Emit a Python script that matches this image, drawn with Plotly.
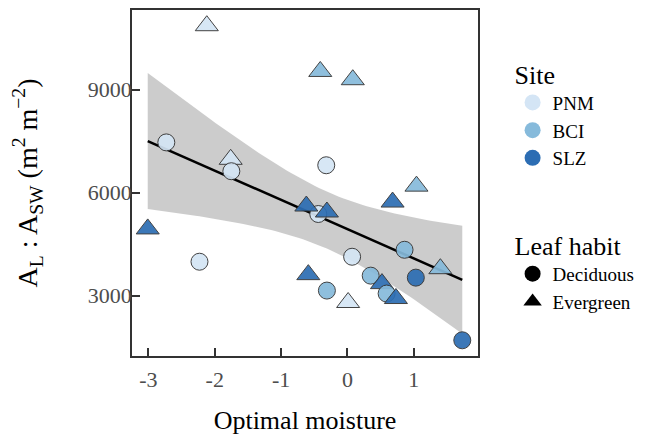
import numpy as np
import plotly.graph_objects as go

# ---- data ----
site = ["PNM", "BCI", "BCI", "PNM", "PNM", "PNM", "PNM", "SLZ", "PNM", "PNM",
        "SLZ", "SLZ", "BCI", "PNM", "SLZ", "PNM", "BCI", "SLZ", "BCI", "SLZ",
        "SLZ", "BCI", "BCI", "SLZ", "BCI", "SLZ"]
habit = ["Evergreen", "Evergreen", "Evergreen", "Deciduous", "Evergreen", "Deciduous",
         "Deciduous", "Evergreen", "Deciduous", "Deciduous", "Evergreen", "Evergreen",
         "Deciduous", "Evergreen", "Evergreen", "Deciduous", "Deciduous", "Evergreen",
         "Deciduous", "Evergreen", "Evergreen", "Evergreen", "Deciduous", "Deciduous",
         "Evergreen", "Deciduous"]
moisture = [-2.12, -0.41, 0.08, -2.73, -1.76, -1.75, -0.32, -3.01, -2.23, -0.44,
            -0.62, -0.31, -0.31, 0.01, -0.59, 0.07, 0.35, 0.52, 0.59, 0.73,
            0.68, 1.04, 0.86, 1.03, 1.40, 1.73]
ratio = [10864, 9531, 9290, 7463, 6970, 6623, 6797, 4941, 3985, 5376,
         5608, 5434, 3144, 2796, 3608, 4130, 3579, 3347, 3057, 2912,
         5724, 6188, 4333, 3521, 3782, 1695]

site_levels = ["PNM", "BCI", "SLZ"]
habit_levels = ["Deciduous", "Evergreen"]
x_ticks = [-3, -2, -1, 0, 1]
y_ticks = [3000, 6000, 9000]

# ---- styles ----
site_colors = {"PNM": "#d4e5f5", "BCI": "#86badb", "SLZ": "#2c6db3"}
habit_symbols = {"Deciduous": "circle", "Evergreen": "triangle-up"}
FONT = "Liberation Serif, Times New Roman, serif"

# ---- linear fit with 95% confidence band ----
x = np.array(moisture, dtype=float)
y = np.array(ratio, dtype=float)
n = len(x)
b1, b0 = np.polyfit(x, y, 1)
resid = y - (b0 + b1 * x)
s = np.sqrt(np.sum(resid ** 2) / (n - 2))
xbar = x.mean()
sxx = np.sum((x - xbar) ** 2)
t_crit = 2.0639  # t(0.975, df=24)
xg = np.linspace(x.min(), x.max(), 80)
yg = b0 + b1 * xg
se = s * np.sqrt(1.0 / n + (xg - xbar) ** 2 / sxx)
upper = yg + t_crit * se
lower = yg - t_crit * se

fig = go.Figure()
fig.add_trace(go.Scatter(
    x=np.concatenate([xg, xg[::-1]]), y=np.concatenate([upper, lower[::-1]]),
    fill="toself", fillcolor="rgba(153,153,153,0.5)", line=dict(width=0),
    mode="lines", showlegend=False, hoverinfo="skip"))
fig.add_trace(go.Scatter(x=xg, y=yg, mode="lines",
                         line=dict(color="black", width=2.5), showlegend=False))

fig.add_trace(go.Scatter(
    x=moisture, y=ratio, mode="markers", showlegend=False,
    marker=dict(color=[site_colors[s_] for s_ in site],
                symbol=[habit_symbols[h] for h in habit],
                size=[17 if h == "Deciduous" else 20 for h in habit],
                opacity=0.92,
                line=dict(color="#333333", width=1))))

# legend entries
for s_ in site_levels:
    fig.add_trace(go.Scatter(x=[None], y=[None], mode="markers", name=s_,
                             marker=dict(color=site_colors[s_], size=16, symbol="circle"),
                             legend="legend"))
for h in habit_levels:
    fig.add_trace(go.Scatter(x=[None], y=[None], mode="markers", name=h,
                             marker=dict(color="black", size=16, symbol=habit_symbols[h]),
                             legend="legend2"))

axis_common = dict(showgrid=False, zeroline=False, showline=True, mirror=True,
                   linecolor="#333333", linewidth=1.6, ticks="inside", ticklen=8,
                   tickwidth=1.6, tickcolor="#333333", automargin=False,
                   tickfont=dict(family=FONT, size=22, color="#4d4d4d"))

fig.update_xaxes(range=[-3.247, 1.967], tickvals=x_ticks,
                 ticktext=[str(v) for v in x_ticks], ticklabelstandoff=3,
                 title=dict(text="Optimal moisture", font=dict(family=FONT, size=26, color="black"),
                            standoff=24),
                 **axis_common)
fig.update_yaxes(range=[1237, 11322], tickvals=y_ticks,
                 ticktext=[str(v) for v in y_ticks], ticklabelstandoff=-6,
                 title=dict(text="A<sub>L</sub> : A<sub>SW</sub> (m<sup>2</sup> m<sup>\u22122</sup>)",
                            font=dict(family=FONT, size=28, color="black"), standoff=42),
                 **axis_common)

legend_common = dict(bgcolor="rgba(0,0,0,0)", font=dict(family=FONT, size=19, color="black"),
                     itemsizing="trace", tracegroupgap=0, xanchor="left", yanchor="top")
fig.update_layout(
    width=665, height=435,
    font=dict(family=FONT, color="black"),
    margin=dict(l=132, r=187, t=10, b=79),
    plot_bgcolor="white", paper_bgcolor="white",
    legend=dict(title=dict(text="Site", font=dict(family=FONT, size=26, color="black")),
                x=1.10, y=0.885, **legend_common),
    legend2=dict(title=dict(text="Leaf habit", font=dict(family=FONT, size=26, color="black")),
                 x=1.10, y=0.39, **legend_common),
)

fig.write_html("out.html", config={"displayModeBar": False},
               post_script="document.body.style.margin='0px';")
